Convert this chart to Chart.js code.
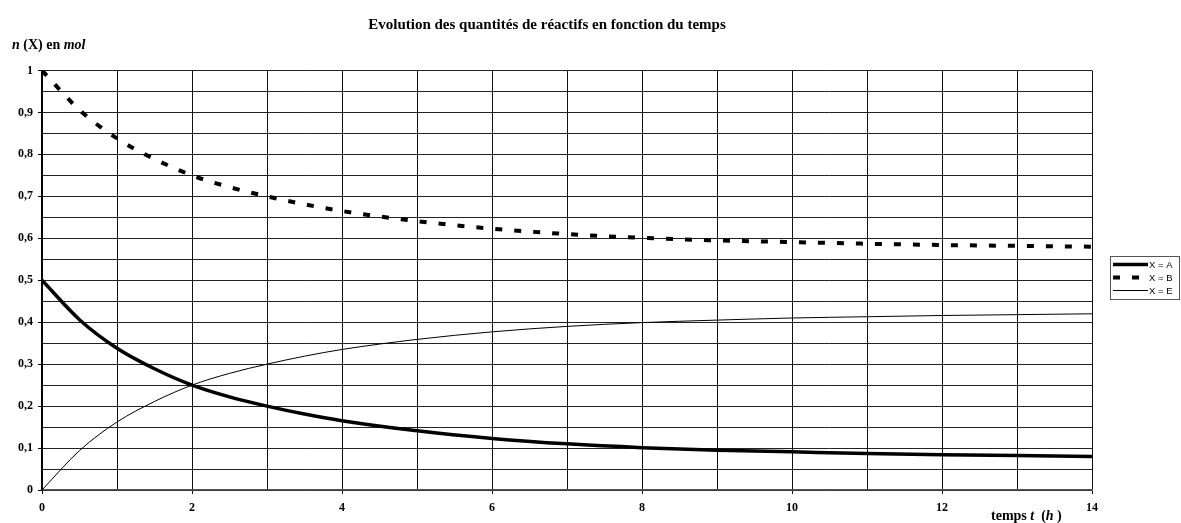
<!DOCTYPE html>
<html>
<head>
<meta charset="utf-8">
<title>Evolution des quantités de réactifs</title>
<script src="https://cdn.jsdelivr.net/npm/chart.js@4.4.1/dist/chart.umd.min.js"></script>
<style>
  html, body { margin: 0; padding: 0; background: #fff; }
  #wrap { width: 1181px; height: 523px; }
</style>
</head>
<body>
<div id="wrap"><canvas id="chart" width="1181" height="523"></canvas></div>
<script>
/* ── Données ── */
const temps = [0, 0.5, 1, 1.5, 2, 2.5, 3, 3.5, 4, 5, 6, 7, 8, 9, 10, 11, 12, 13, 14];
const nA = [0.5, 0.406, 0.338, 0.289, 0.25, 0.222, 0.2, 0.181, 0.165, 0.141, 0.123, 0.11, 0.101, 0.095, 0.091, 0.087, 0.084, 0.082, 0.08];
const nB = [1.0, 0.906, 0.838, 0.789, 0.75, 0.722, 0.7, 0.681, 0.665, 0.641, 0.623, 0.61, 0.601, 0.595, 0.591, 0.587, 0.584, 0.582, 0.58];
const nE = [0, 0.094, 0.162, 0.211, 0.25, 0.278, 0.3, 0.319, 0.335, 0.359, 0.377, 0.39, 0.399, 0.405, 0.41, 0.413, 0.416, 0.418, 0.42];
const seriesLabels = ['X = A', 'X = B', 'X = E'];
const xTicks = [0, 2, 4, 6, 8, 10, 12, 14];

const pts = arr => arr.map((v, i) => ({ x: temps[i], y: v }));

const SERIF = '"Liberation Serif", "Times New Roman", serif';
const SANS = '"Liberation Sans", Arial, sans-serif';

// draws a run of text pieces, some in italic
function drawRuns(ctx, runs, x, y, size) {
  ctx.textBaseline = 'alphabetic';
  ctx.textAlign = 'left';
  runs.forEach(r => {
    ctx.font = (r.it ? 'italic ' : '') + 'bold ' + size + 'px ' + SERIF;
    ctx.fillText(r.t, x, y);
    x += ctx.measureText(r.t).width;
  });
}

const textPlugin = {
  id: 'textPlugin',
  afterDraw(chart) {
    const ctx = chart.ctx;
    ctx.save();
    ctx.fillStyle = '#000';

    // titre
    ctx.font = 'bold 15px ' + SERIF;
    ctx.textAlign = 'center';
    ctx.textBaseline = 'alphabetic';
    ctx.fillText('Evolution des quantités de réactifs en fonction du temps', 547, 29);

    // axe y
    drawRuns(ctx, [{ t: 'n', it: true }, { t: ' (X) en ', it: false }, { t: 'mol', it: true }], 12, 49, 14);

    // axe x
    drawRuns(ctx, [{ t: 'temps ', it: false }, { t: 't', it: true }, { t: '  (', it: false }, { t: 'h', it: true }, { t: ' )', it: false }], 991, 520, 14);

    // légende
    const bx = 1110.5, by = 256.5, bw = 69, bh = 43;
    ctx.strokeStyle = '#555';
    ctx.lineWidth = 1;
    ctx.setLineDash([]);
    ctx.strokeRect(bx, by, bw, bh);
    ctx.font = '9.5px ' + SANS;
    ctx.textAlign = 'left';
    ctx.textBaseline = 'middle';
    chart.data.datasets.forEach((ds, i) => {
      const y = 264.5 + i * 13;
      ctx.beginPath();
      ctx.setLineDash(ds.borderDash || []);
      ctx.lineWidth = ds.borderWidth;
      ctx.strokeStyle = '#000';
      ctx.moveTo(1113, y);
      ctx.lineTo(1148, y);
      ctx.stroke();
      ctx.setLineDash([]);
      ctx.fillText(ds.label, 1149, y + 0.5);
    });
    ctx.restore();
  }
};

new Chart(document.getElementById('chart'), {
  type: 'line',
  data: {
    datasets: [
      { label: seriesLabels[0], data: pts(nA), borderColor: '#000', borderWidth: 3.5, pointRadius: 0, cubicInterpolationMode: 'monotone' },
      { label: seriesLabels[1], data: pts(nB), borderColor: '#000', borderWidth: 4, borderDash: [7, 12], borderCapStyle: 'butt', pointRadius: 0, cubicInterpolationMode: 'monotone' },
      { label: seriesLabels[2], data: pts(nE), borderColor: '#000', borderWidth: 1, pointRadius: 0, cubicInterpolationMode: 'monotone' }
    ]
  },
  options: {
    responsive: false,
    animation: false,
    devicePixelRatio: 1,
    layout: { padding: { top: 70.5, right: 89, left: 0, bottom: 0 } },
    plugins: { legend: { display: false }, title: { display: false }, tooltip: { enabled: false } },
    scales: {
      x: {
        type: 'linear', min: 0, max: 14,
        afterFit: s => { s.height = 33; },
        ticks: {
          stepSize: 1, padding: 7, color: '#000',
          font: { family: SERIF, size: 12, weight: 'bold' },
          callback: v => xTicks.includes(v) ? String(v) : ''
        },
        grid: {
          color: '#111', lineWidth: 1, tickLength: 4,
          tickColor: c => (c.tick && xTicks.includes(c.tick.value)) ? '#000' : 'rgba(0,0,0,0)'
        },
        border: { color: '#555', width: 1.5 }
      },
      y: {
        type: 'linear', min: 0, max: 1,
        afterFit: s => { s.width = 42; },
        ticks: {
          stepSize: 0.05, padding: 5, color: '#000',
          font: { family: SERIF, size: 12, weight: 'bold' },
          callback: v => {
            const k = Math.round(v * 100);
            return k % 10 === 0 ? String(k / 100).replace('.', ',') : '';
          }
        },
        grid: {
          color: '#222', lineWidth: 1, tickLength: 4,
          tickColor: c => (c.tick && Math.round(c.tick.value * 100) % 10 === 0) ? '#000' : 'rgba(0,0,0,0)'
        },
        border: { color: '#000', width: 1.5 }
      }
    }
  },
  plugins: [textPlugin]
});
</script>
</body>
</html>
